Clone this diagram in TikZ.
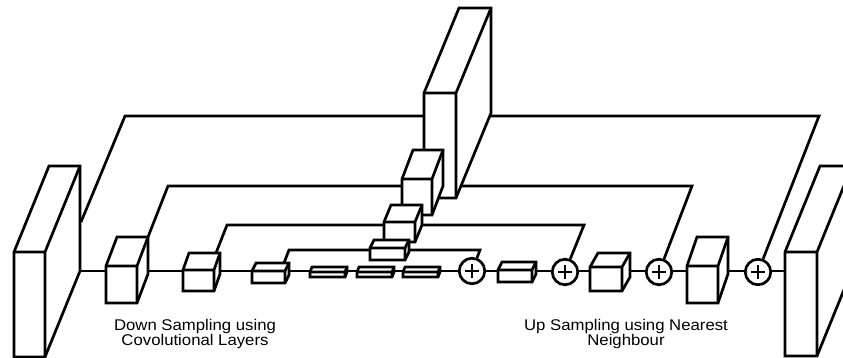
\documentclass[tikz,border=0pt]{standalone}
\usepackage{fontspec}
\newfontfamily\lblfont[FakeStretch=1.08]{Liberation Sans}
\pgfdeclarelayer{background}
\pgfsetlayers{background,main}
\tikzset{
  % cuboid: front face #1 wide, #2 high; depth offset #3 right, #4 up
  pics/cuboid/.style n args={4}{code={
    \coordinate (-ftl) at (0,0);
    \coordinate (-ftr) at (#1,0);
    \coordinate (-fbl) at (0,#2);
    \coordinate (-fbr) at (#1,#2);
    \coordinate (-btl) at (#3,-#4);
    \coordinate (-btr) at (#1+#3,-#4);
    \coordinate (-bbr) at (#1+#3,#2-#4);
    \filldraw[fill=white] (-fbl) -- (-ftl) -- (-btl) -- (-btr) -- (-bbr) -- (-fbr) -- cycle;
    \draw (-ftl) -- (-ftr) -- (-fbr) (-ftr) -- (-btr);
  }},
  oplus/.style={circle, draw, fill=white, minimum size=25.5pt, inner sep=0pt,
    path picture={\draw ([xshift=-7pt]path picture bounding box.center) -- ([xshift=7pt]path picture bounding box.center)
      ([yshift=-7pt]path picture bounding box.center) -- ([yshift=7pt]path picture bounding box.center);}},
  wire/.style={line width=2.7pt},
  lbl/.style={anchor=north, align=center, inner sep=0pt,
    font=\lblfont\fontsize{15.5}{13.5}\selectfont},
}
\begin{document}
\begin{tikzpicture}[x=1pt, y=-1pt, line width=2.7pt]
\useasboundingbox (0,0) rectangle (843,358);
\clip (0,0) rectangle (843,358);

% encoder / decoder end slabs
\pic (L) at (14,252) {cuboid={31}{105}{35}{86}};
\pic (R) at (785,252) {cuboid={32}{104}{35}{86}};

% skip features, stacked back to front
\pic (S) at (424,93) {cuboid={32}{105}{35}{85}};
\pic (M2) at (402,179) {cuboid={30}{36}{11}{29}};
\pic (M3) at (384,222) {cuboid={31}{20}{7}{17}};
\pic (M4) at (370,248) {cuboid={35}{12}{4}{8}};

% down sampling path
\pic (A) at (106,266) {cuboid={31}{37}{11}{29}};
\pic (B) at (183,270) {cuboid={31}{21}{6}{17}};
\pic (C) at (252,271) {cuboid={33}{12}{4}{8}};

% bottleneck
\pic (Q1) at (310,272) {cuboid={35}{5}{2}{5}};
\pic (Q2) at (357,272) {cuboid={35}{5}{2}{5}};
\pic (Q3) at (403,272) {cuboid={35}{5}{2}{5}};

% up sampling path
\pic (D) at (498,270) {cuboid={34}{12}{4}{8}};
\pic (E) at (590,267) {cuboid={32}{24}{8}{14}};
\pic (F) at (687,266) {cuboid={31}{37}{10}{29}};

% additions
\node[oplus] (P1) at (472,271) {};
\node[oplus] (P2) at (565,272) {};
\node[oplus] (P3) at (659,272) {};
\node[oplus] (P4) at (758,272) {};

% skip connection bends
\coordinate (k1s) at (81,222);
\coordinate (k1a) at (125,116);
\coordinate (k1b) at (819,116);
\coordinate (k2a) at (168,186);
\coordinate (k2b) at (692,186);
\coordinate (k3s) at (216,253);
\coordinate (k3a) at (227,225);
\coordinate (k3b) at (584,225);
\coordinate (k4s) at (284,263);
\coordinate (k4a) at (289,250);
\coordinate (k4b) at (480,250);

\begin{pgfonlayer}{background}
  \draw[wire] (L-bbr) -- (R-fbl |- L-bbr);
  \draw[wire] (k1s) -- (k1a) -- (k1b) -- (P4);
  \draw[wire] (A-btr) -- (k2a) -- (k2b) -- (P3);
  \draw[wire] (k3s) -- (k3a) -- (k3b) -- (P2);
  \draw[wire] (k4s) -- (k4a) -- (k4b) -- (P1);
\end{pgfonlayer}

\node[lbl] (tdown) at (195,319) {Down Sampling using\\Covolutional Layers};
\node[lbl] (tup) at (626,319) {Up Sampling using Nearest\\Neighbour};
\end{tikzpicture}
\end{document}
